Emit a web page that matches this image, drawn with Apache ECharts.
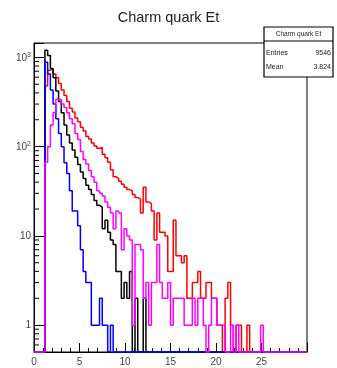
<!DOCTYPE html>
<html>
<head>
<meta charset="utf-8">
<script src="https://cdn.jsdelivr.net/npm/echarts@6/dist/echarts.min.js"></script>
<style>html,body{margin:0;padding:0;background:#fff;}#c{width:337px;height:368px;}</style>
</head>
<body>
<div id="c"></div>
<script>
// Histogram binning: 100 bins, 0..30
const binWidth = 0.3;
const nBins = 100;
const xTickLabels = ['0', '5', '10', '15', '20', '25'];
const yTickValues = [1, 10, 100, 1000];

// Counts per bin (starting at bin 0), trailing bins are zero
const redCounts = [0,0,0,0, 480,720,740,650,590,510,
  430,375,320,270,245,210,190,165,150,130,
  122,110,102,96,98,82,75,67,55,46,
  44,41,38,35,33,32,29,27,26,18,
  35,24,23,19,9,18,11,11,10,4,
  4,15,6,6,5,6,2,2,3,3,
  4,2,2,3,3,2,2,1,1,0,
  2,3,1,0,1,1,0,0,1];
const blackCounts = [0,0,0,0, 1200,1050,750,590,420,320,
  240,175,135,110,92,76,63,52,44,37,
  33,29,25,22,21,12,15,11,9,8,
  4,4,2,3,2,4,0,2,0,0,
  2];
const blueCounts = [0,0,0,0, 880,650,430,300,205,140,
  100,66,50,32,19,19,13,7,4,3,
  3,1,1,1,2,1,1,0,1];
const magentaCounts = [0,0,0,0, 67,100,175,240,340,340,
  300,275,240,205,180,140,120,88,72,64,
  54,46,40,32,30,28,24,21,18,12,
  19,18,7,12,10,9,1,8,8,7,
  2,3,1,3,3,8,3,2,2,3,
  1,2,2,2,2,1,1,1,2,1,
  2,2,1,0,1,2,2,1,1,1,
  0,0,1,0,1,0,0,0,0,0,
  0,0,0,1];

const yMin = 0.5, yMax = 1450;
const yMinorTickValues = [0.6,0.7,0.8,0.9, 2,3,4,5,6,7,8,9, 20,30,40,50,60,70,80,90, 200,300,400,500,600,700,800,900];

function histPoints(counts) {
  const pts = [];
  for (let i = 0; i < nBins; i++) {
    const c = i < counts.length ? counts[i] : 0;
    pts.push([+(i * binWidth).toFixed(2), c > 0 ? c : yMin]);
  }
  pts.push([+(nBins * binWidth).toFixed(2), pts[pts.length - 1][1]]);
  return pts;
}

function histSeries(counts, color) {
  return {
    type: 'line', step: 'end', data: histPoints(counts),
    symbol: 'none', showSymbol: false, clip: false, silent: true,
    lineStyle: { color: color, width: 1.5 }, animation: false
  };
}

const FONT = 'Liberation Sans';
const chart = echarts.init(document.getElementById('c'), null, { renderer: 'canvas' });
chart.setOption({
  backgroundColor: '#fff',
  animation: false,
  title: {
    text: 'Charm quark Et', left: 'center', top: 5,
    textStyle: { fontSize: 14.5, fontWeight: 'normal', color: '#222', fontFamily: FONT }
  },
  grid: { left: 34, right: 30, top: 43, bottom: 16, show: true, borderColor: '#000', borderWidth: 1, containLabel: false, outerBoundsMode: 'none' },
  xAxis: {
    type: 'value', min: 0, max: 30, interval: 5,
    axisLine: { show: true, lineStyle: { color: '#000', width: 1 } },
    axisTick: { show: true, inside: true, length: 9, lineStyle: { color: '#000' } },
    minorTick: { show: true, splitNumber: 5, length: 4, lineStyle: { color: '#000' } },
    splitLine: { show: false },
    axisLabel: {
      margin: 5, fontSize: 10, color: '#444', fontFamily: FONT,
      formatter: function (v) { const s = String(Math.round(v)); return xTickLabels.indexOf(s) >= 0 ? s : ''; }
    }
  },
  yAxis: {
    type: 'log', logBase: 10, min: yMin, max: yMax,
    axisLine: { show: true, lineStyle: { color: '#000', width: 1 } },
    axisTick: { show: true, inside: true, length: 10, lineStyle: { color: '#000' } },
    splitLine: { show: false },
    axisLabel: {
      margin: 3, fontSize: 10, color: '#444', fontFamily: FONT,
      formatter: function (v) {
        const l = Math.log10(v), e = Math.round(l);
        if (Math.abs(l - e) > 1e-6 || yTickValues.indexOf(Math.pow(10, e)) < 0) return '';
        if (e === 0) return '1';
        if (e === 1) return '10';
        return '{b|10}{s|' + e + '}';
      },
      rich: {
        b: { fontSize: 10, color: '#444', fontFamily: FONT, lineHeight: 12, verticalAlign: 'bottom' },
        s: { fontSize: 7, color: '#444', fontFamily: FONT, lineHeight: 12, verticalAlign: 'top', padding: [0, 0, 5, 0] }
      }
    }
  },
  series: [
    histSeries(redCounts, '#ff0000'),
    histSeries(blackCounts, '#000000'),
    histSeries(blueCounts, '#0000ff'),
    histSeries(magentaCounts, '#ff00ff'),
    {
      type: 'custom', coordinateSystem: 'cartesian2d', silent: true, animation: false, z: 5,
      data: yMinorTickValues.map(v => [0, v]),
      renderItem: function (params, api) {
        const p = api.coord([api.value(0), api.value(1)]);
        return { type: 'line', shape: { x1: p[0], y1: p[1], x2: p[0] + 5, y2: p[1] }, style: { stroke: '#000', lineWidth: 1 } };
      }
    }
  ],
  graphic: [{
    type: 'group', z: 100,
    children: [
      { type: 'rect', shape: { x: 264, y: 27, width: 69, height: 50 }, style: { fill: '#fff', stroke: '#000', lineWidth: 1.2 } },
      { type: 'line', shape: { x1: 264, y1: 41, x2: 333, y2: 41 }, style: { stroke: '#000', lineWidth: 1 } },
      { type: 'text', x: 298.5, y: 34, style: { text: 'Charm quark Et', fontSize: 6.5, fontFamily: FONT, fill: '#222', align: 'center', verticalAlign: 'middle' } },
      { type: 'text', x: 266, y: 53, style: { text: 'Entries', fontSize: 7, fontFamily: FONT, fill: '#222', align: 'left', verticalAlign: 'middle' } },
      { type: 'text', x: 331, y: 53, style: { text: '9546', fontSize: 7, fontFamily: FONT, fill: '#222', align: 'right', verticalAlign: 'middle' } },
      { type: 'text', x: 266, y: 67, style: { text: 'Mean', fontSize: 7, fontFamily: FONT, fill: '#222', align: 'left', verticalAlign: 'middle' } },
      { type: 'text', x: 331, y: 67, style: { text: '3.824', fontSize: 7, fontFamily: FONT, fill: '#222', align: 'right', verticalAlign: 'middle' } }
    ]
  }]
});
</script>
</body>
</html>
